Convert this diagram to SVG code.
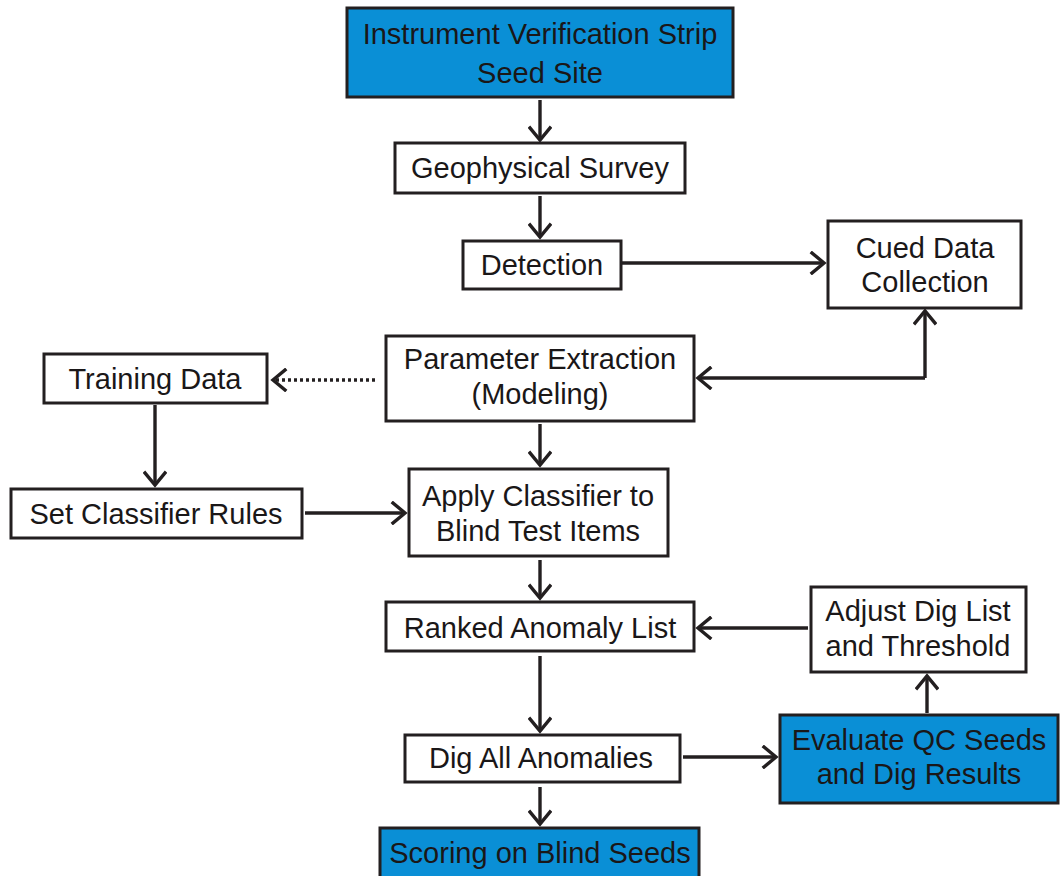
<svg xmlns="http://www.w3.org/2000/svg" width="1060" height="876" viewBox="0 0 1060 876">
<defs>
<marker id="ah" viewBox="0 0 20 24" refX="17" refY="12" markerWidth="20" markerHeight="24" markerUnits="userSpaceOnUse" orient="auto">
<path d="M5 2 L17 12 L5 22" fill="none" stroke="#231f20" stroke-width="3.4" stroke-linecap="square"/>
</marker>
</defs>
<style>
.box{fill:#fff;stroke:#231f20;stroke-width:3}
.blue{fill:#0a8fd6;stroke:#231f20;stroke-width:3}
text{font-family:"Liberation Sans",Arial,sans-serif;font-size:29px;fill:#1a1718;text-anchor:middle}
.c{fill:none;stroke:#231f20;stroke-width:3.4;marker-end:url(#ah)}
.d{fill:none;stroke:#231f20;stroke-width:3.4;stroke-dasharray:3 3;marker-end:url(#ah)}
</style>
<rect width="1060" height="876" fill="#fff"/>
<g id="connectors">
<line class="c" x1="540" y1="100" x2="540" y2="140"/>
<line class="c" x1="540" y1="196" x2="540" y2="237"/>
<line class="c" x1="622" y1="263" x2="824" y2="263"/>
<polyline class="c" points="925,378 925,311"/>
<polyline class="c" points="925,378 698,378"/>
<line class="d" x1="375" y1="380" x2="273" y2="380"/>
<line class="c" x1="155" y1="405" x2="155" y2="485"/>
<line class="c" x1="305" y1="513" x2="405" y2="513"/>
<line class="c" x1="540" y1="424" x2="540" y2="465"/>
<line class="c" x1="540" y1="560" x2="540" y2="598"/>
<line class="c" x1="808" y1="628" x2="698" y2="628"/>
<line class="c" x1="927" y1="713" x2="927" y2="676"/>
<line class="c" x1="540" y1="656" x2="540" y2="731"/>
<line class="c" x1="683" y1="757" x2="776" y2="757"/>
<line class="c" x1="540" y1="787" x2="540" y2="824"/>
</g>
<g id="n-ivs"><rect class="blue" x="347" y="8" width="386" height="89"/><text x="540" y="44">Instrument Verification Strip</text><text x="540" y="83">Seed Site</text></g>
<g id="n-geo"><rect class="box" x="395" y="143" width="290" height="50"/><text x="540" y="178">Geophysical Survey</text></g>
<g id="n-det"><rect class="box" x="463" y="241" width="158" height="48"/><text x="542" y="275">Detection</text></g>
<g id="n-cued"><rect class="box" x="828" y="221" width="193" height="87"/><text x="925" y="258">Cued Data</text><text x="925" y="292">Collection</text></g>
<g id="n-param"><rect class="box" x="386" y="336" width="308" height="85"/><text x="540" y="369">Parameter Extraction</text><text x="540" y="404">(Modeling)</text></g>
<g id="n-train"><rect class="box" x="44" y="354" width="223" height="49"/><text x="155" y="389">Training Data</text></g>
<g id="n-rules"><rect class="box" x="11" y="489" width="291" height="49"/><text x="156" y="524">Set Classifier Rules</text></g>
<g id="n-apply"><rect class="box" x="409" y="469" width="259" height="87"/><text x="538" y="506">Apply Classifier to</text><text x="538" y="541">Blind Test Items</text></g>
<g id="n-ranked"><rect class="box" x="386" y="602" width="308" height="49"/><text x="540" y="638">Ranked Anomaly List</text></g>
<g id="n-adjust"><rect class="box" x="811" y="587" width="215" height="85"/><text x="918" y="621">Adjust Dig List</text><text x="918" y="656">and Threshold</text></g>
<g id="n-eval"><rect class="blue" x="780" y="715" width="278" height="88"/><text x="919" y="750">Evaluate QC Seeds</text><text x="919" y="784">and Dig Results</text></g>
<g id="n-dig"><rect class="box" x="405" y="735" width="275" height="47"/><text x="541" y="768">Dig All Anomalies</text></g>
<g id="n-score"><rect class="blue" x="380" y="828" width="319" height="60"/><text x="540" y="863">Scoring on Blind Seeds</text></g>
</svg>
